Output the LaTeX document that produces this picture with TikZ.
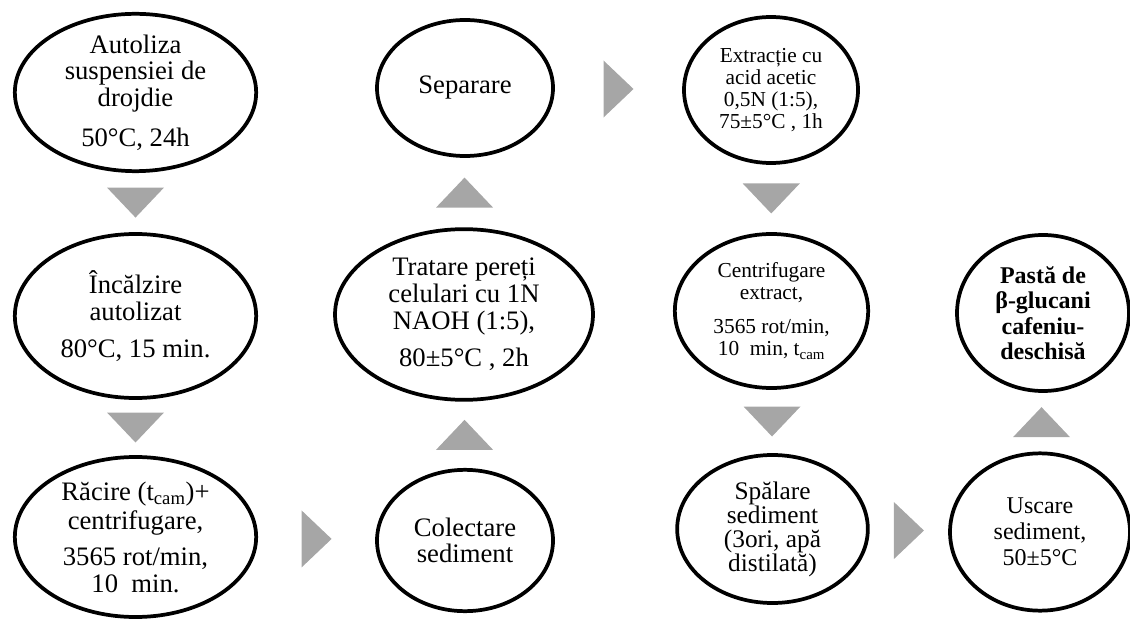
\documentclass[tikz,border=0pt]{standalone}
\usepackage{fontspec}
\setmainfont{Liberation Serif}
\usepackage{tikz}
\usetikzlibrary{shapes.geometric,calc}
\definecolor{flowgray}{RGB}{166,166,166}

\begin{document}
\begin{tikzpicture}[x=0.75pt,y=0.75pt,
  every node/.style={align=center},
  stepell/.style={ellipse,draw=black,line width=2.8pt,inner sep=-40pt,
                  font=\fontsize{20}{20}\selectfont},
  smallstep/.style={font=\fontsize{16}{16.5}\selectfont},
  midstep/.style={font=\fontsize{18}{19.5}\selectfont}]
  \useasboundingbox (0,0) rectangle (1130,618);

  \node[stepell,minimum width=181pt,minimum height=118pt] (a1) at (135.5,525.5)
    {Autoliza\\suspensiei de\\drojdie\\[10pt]50°C, 24h};
  \node[stepell,minimum width=181pt,minimum height=123pt] (a2) at (135.5,302)
    {Încălzire\\autolizat\\[8pt]80°C, 15 min.};
  \node[stepell,minimum width=181pt,minimum height=120pt] (a3) at (135.5,81)
    {Răcire (t\textsubscript{cam})+\\[2pt]centrifugare,\\[7pt]3565 rot/min,\\10\ \ min.};

  \node[stepell,minimum width=132pt,minimum height=102pt] (b1) at (465,530)
    {Separare};
  \node[stepell,minimum width=193.5pt,minimum height=128pt] (b2) at (464,303.5)
    {Tratare pereți\\celulari cu 1N\\NAOH (1:5),\\[8pt]80±5°C , 2h};
  \node[stepell,minimum width=132pt,minimum height=106pt] (b3) at (465,77.5)
    {Colectare\\sediment};

  \node[stepell,smallstep,minimum width=130.5pt,minimum height=109.5pt] (c1) at (771,528)
    {Extracție cu\\acid acetic\\0,5N (1:5),\\75±5°C , 1h};
  \node[stepell,smallstep,minimum width=145pt,minimum height=115.5pt] (c2) at (771.5,307)
    {Centrifugare\\extract,\\[9pt]3565 rot/min,\\10\ \ min, t\textsubscript{cam}};
  \node[stepell,font=\fontsize{19}{18}\selectfont,minimum width=143pt,minimum height=111pt]
    (c3) at (772.5,89) {Spălare\\sediment\\(3ori, apă\\distilată)};

  \node[stepell,font=\bfseries\fontsize{18}{19}\selectfont,minimum width=129pt,
        minimum height=117pt] (d2) at (1043,305) {Pastă de\\β-glucani\\cafeniu-\\deschisă};
  \node[stepell,midstep,minimum width=135pt,minimum height=118pt] (d3) at (1040,86)
    {Uscare\\sediment,\\50±5°C};

  % grey arrow heads between the steps
  \foreach \p/\q/\r in {a1/a2/-90,a2/a3/-90,a3/b3/0,b3/b2/90,b2/b1/90,
                        b1/c1/0,c1/c2/-90,c2/c3/-90,c3/d3/0,d3/d2/90}{
    \path (\p) -- coordinate[midway] (m) (\q);
    \fill[flowgray,shift={(m)},rotate=\r] (-15,-28.5) -- (15,0) -- (-15,28.5) -- cycle;
  }
\end{tikzpicture}
\end{document}
